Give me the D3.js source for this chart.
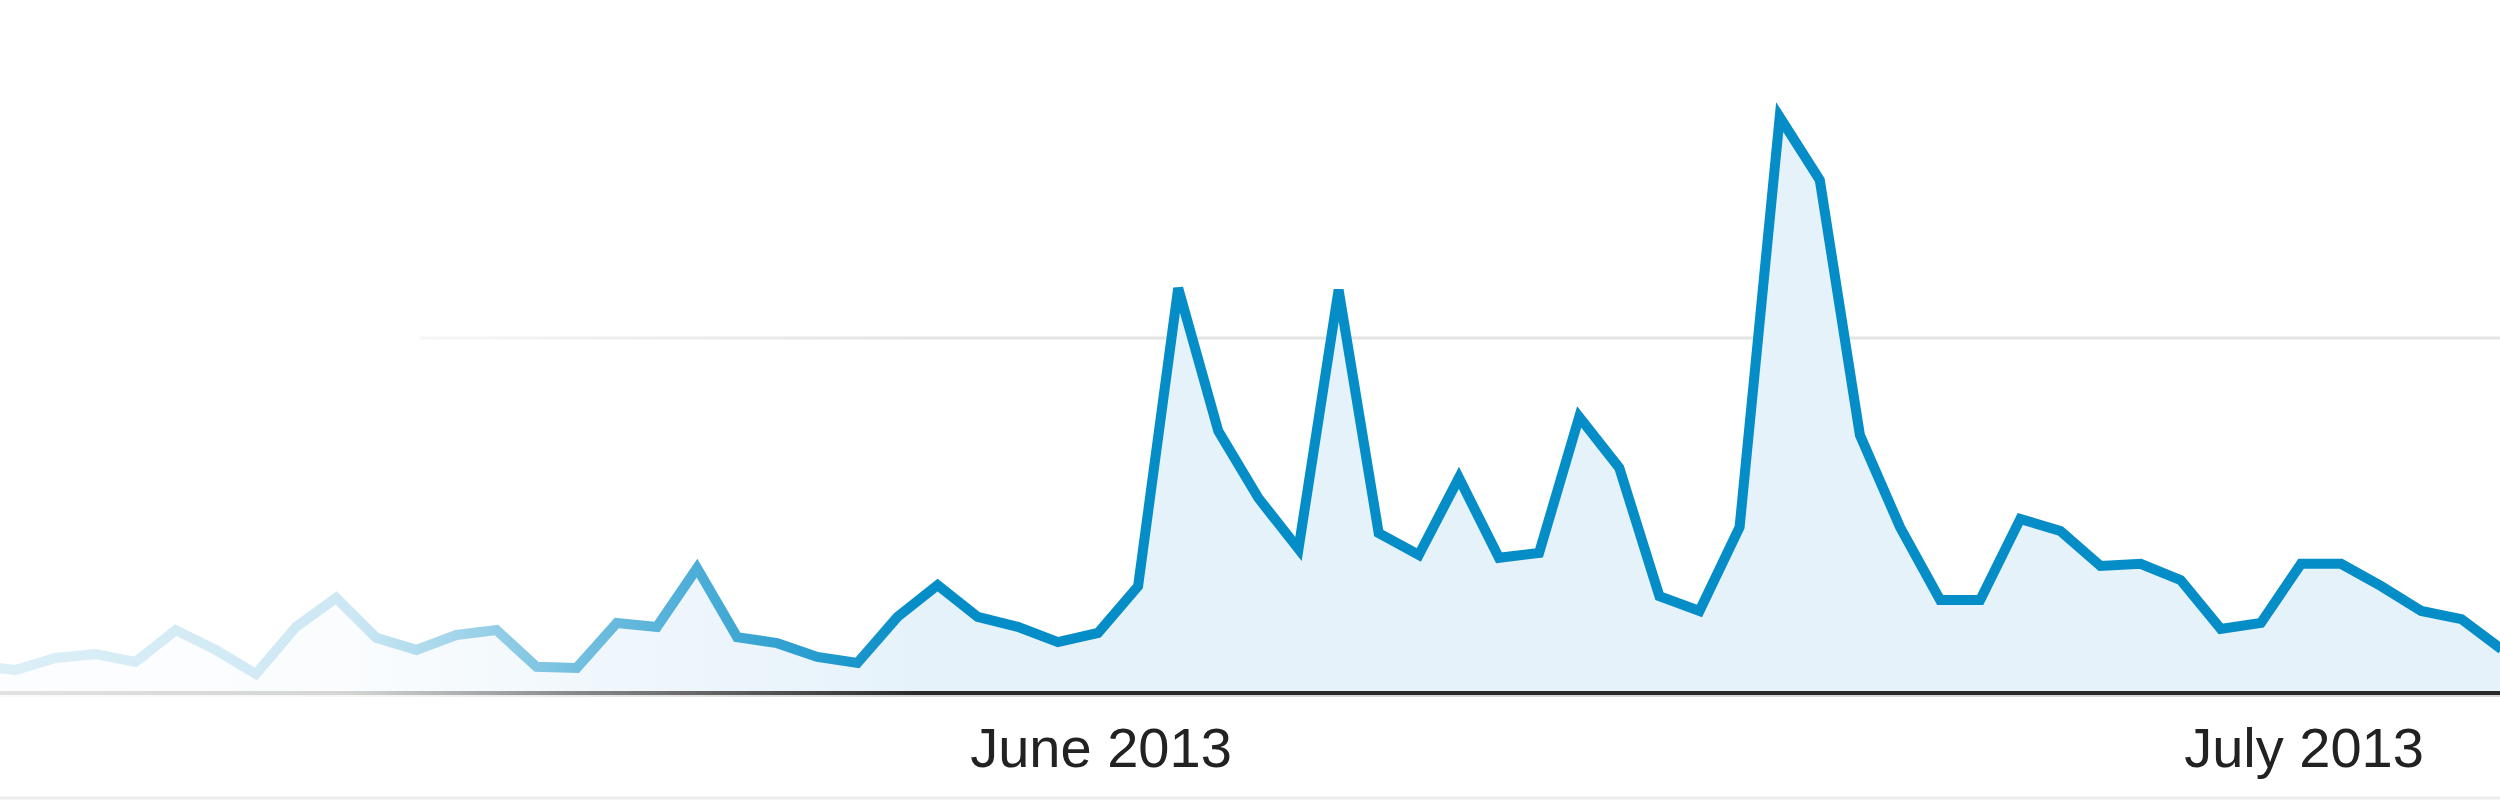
<!DOCTYPE html>
<html>
<head>
<meta charset="utf-8">
<script src="https://cdn.jsdelivr.net/npm/d3@7"></script>
<style>
  html, body { margin: 0; padding: 0; background: #fff; }
  svg { display: block; }
</style>
</head>
<body>
<script>
// Daily visits, May 4 2013 through July 6 2013
var startDay = new Date(2013, 4, 4);
var endDay = new Date(2013, 6, 7);
var visits = [
  7.6, 6.2, 9.6, 10.7, 8.5, 17.5, 11.9, 5.1, 18.4, 26.6,
  15.3, 11.9, 16.1, 17.5, 7.1, 6.8, 19.5, 18.4, 35.0, 15.5,
  13.8, 9.9, 8.2, 21.2, 30.2, 21.2, 18.4, 14.1, 16.7, 29.9,
  114.1, 73.7, 54.8, 40.4, 113.6, 44.9, 38.7, 60.5, 37.9, 39.3,
  77.7, 63.3, 27.1, 22.9, 46.6, 162.4, 144.6, 72.6, 46.6, 26.0,
  26.0, 48.9, 45.5, 35.6, 36.2, 31.6, 17.8, 19.5, 36.2, 36.2,
  29.9, 22.9, 20.6, 12.1
];
var tickDates = [new Date(2013, 5, 1), new Date(2013, 6, 1)];
var tickLabels = ["June 2013", "July 2013"];
var gridValues = [100];

var width = 2500, height = 800;
var days = d3.timeDay.range(startDay, endDay);
var data = days.map(function(d, i) { return {date: d, value: visits[i]}; });

var svg = d3.select("body").append("svg")
  .attr("width", width)
  .attr("height", height);

var x_Scale = d3.scaleTime()
  .domain([new Date(2013, 4, 5), new Date(2013, 6, 6)])
  .range([15.3, 2501.5]);

var y_Scale = d3.scaleLinear()
  .domain([0, 200])
  .range([692, -16]);

var defs = svg.append("defs");

// white fade on the left side of the plot
var fade = defs.append("linearGradient")
  .attr("id", "fade")
  .attr("gradientUnits", "userSpaceOnUse")
  .attr("x1", 0).attr("x2", 920).attr("y1", 0).attr("y2", 0);
fade.append("stop").attr("offset", 0).attr("stop-color", "#fff").attr("stop-opacity", 0.86);
fade.append("stop").attr("offset", 0.38).attr("stop-color", "#fff").attr("stop-opacity", 0.8);
fade.append("stop").attr("offset", 0.62).attr("stop-color", "#fff").attr("stop-opacity", 0.45);
fade.append("stop").attr("offset", 1).attr("stop-color", "#fff").attr("stop-opacity", 0);

defs.append("clipPath").attr("id", "plotclip")
  .append("rect").attr("x", 0).attr("y", 0).attr("width", width).attr("height", 700);

// gridline
svg.append("g").selectAll("line")
  .data(gridValues)
  .enter().append("line")
  .attr("x1", 420).attr("x2", width)
  .attr("y1", function(d) { return y_Scale(d); })
  .attr("y2", function(d) { return y_Scale(d); })
  .attr("stroke", "#e4e4e4")
  .attr("stroke-width", 3);

var plot = svg.append("g").attr("clip-path", "url(#plotclip)");

var area = d3.area()
  .x(function(d) { return x_Scale(d.date); })
  .y0(y_Scale(0))
  .y1(function(d) { return y_Scale(d.value); });

var line = d3.line()
  .x(function(d) { return x_Scale(d.date); })
  .y(function(d) { return y_Scale(d.value); });

plot.append("path")
  .attr("d", area(data))
  .attr("fill", "#e6f2fa");

plot.append("path")
  .attr("d", line(data))
  .attr("fill", "none")
  .attr("stroke", "#058dc7")
  .attr("stroke-width", 10)
  .attr("stroke-linejoin", "miter");

// x axis baseline
svg.append("line")
  .attr("x1", 0).attr("x2", width)
  .attr("y1", 696).attr("y2", 696)
  .attr("stroke", "#d8d8d8")
  .attr("stroke-width", 2);
svg.append("line")
  .attr("x1", 0).attr("x2", width)
  .attr("y1", y_Scale(0) + 1).attr("y2", y_Scale(0) + 1)
  .attr("stroke", "#2a2a2a")
  .attr("stroke-width", 4);

svg.append("rect")
  .attr("x", 0).attr("y", 0)
  .attr("width", 920).attr("height", 700)
  .attr("fill", "url(#fade)");

// month labels
svg.append("g").selectAll("text")
  .data(tickDates)
  .enter().append("text")
  .attr("x", function(d) { return x_Scale(d) + 3; })
  .attr("y", 767)
  .attr("text-anchor", "middle")
  .style("font-family", "Arial, 'Liberation Sans', sans-serif")
  .style("font-size", "56px")
  .attr("fill", "#222")
  .text(function(d, i) { return tickLabels[i]; });

// faint bottom border
svg.append("line")
  .attr("x1", 0).attr("x2", width)
  .attr("y1", 798).attr("y2", 798)
  .attr("stroke", "#ececec")
  .attr("stroke-width", 3);
</script>
</body>
</html>
